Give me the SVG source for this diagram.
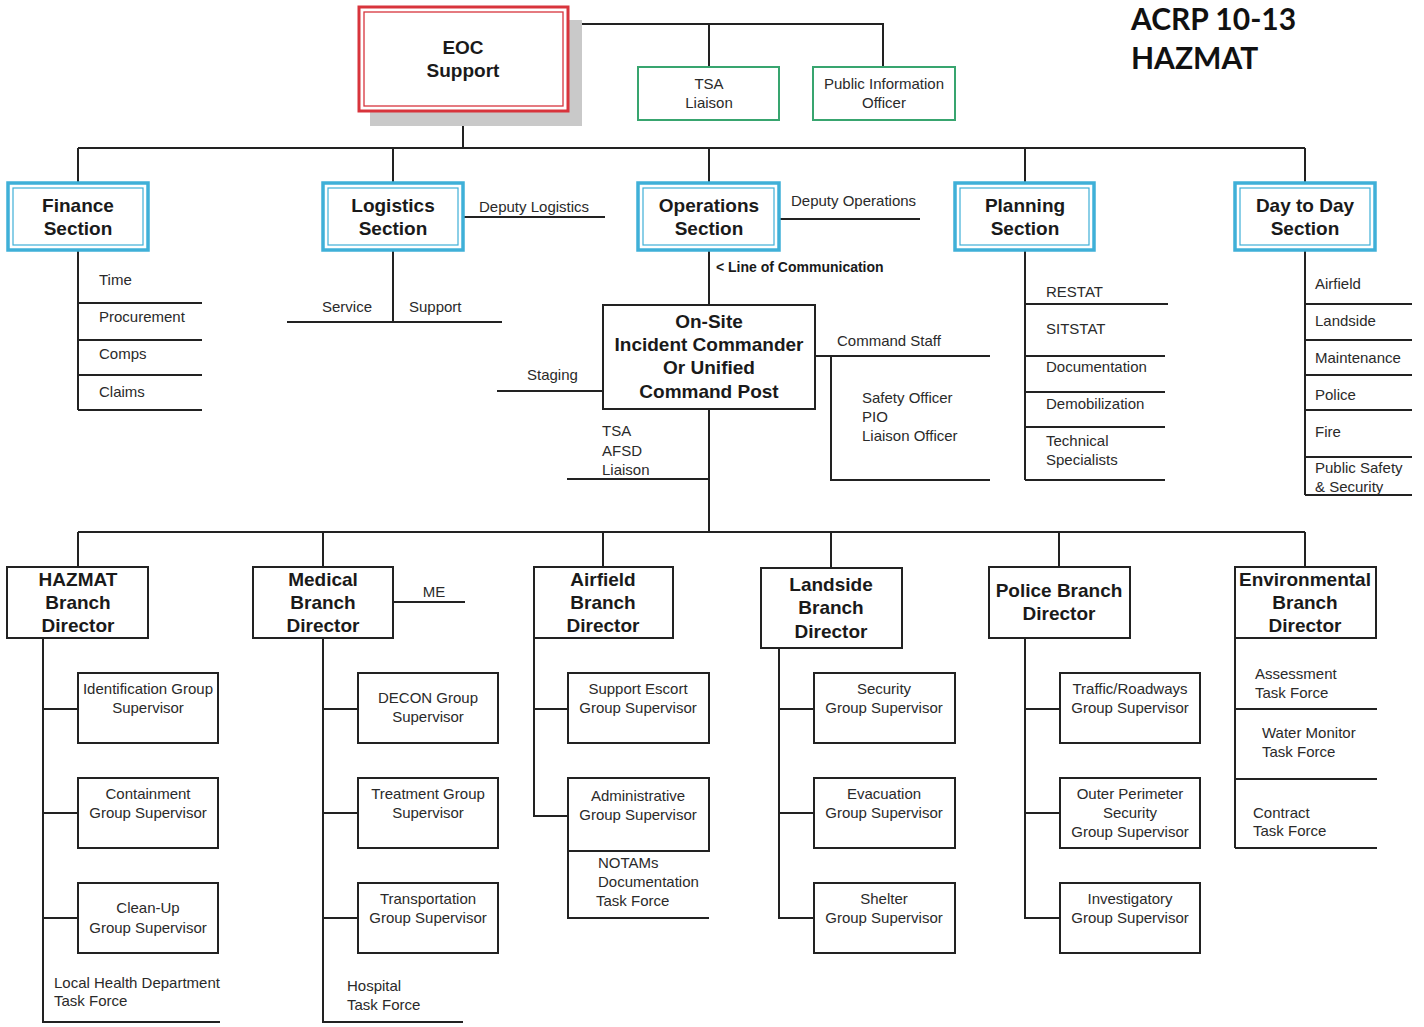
<svg xmlns="http://www.w3.org/2000/svg" width="1424" height="1027" viewBox="0 0 1424 1027">
  <defs>
    <style>
      .ln { stroke: #222; stroke-width: 2; fill: none; }
      .box { fill: #fff; stroke: #222; stroke-width: 2; }
      .sec { fill: #fff; stroke: #3fb0d8; stroke-width: 3.5; }
      .sec-in { fill: none; stroke: #3fb0d8; stroke-width: 1.2; }
      .grn { fill: #fff; stroke: #38a56f; stroke-width: 2; }
      .t { font-family: "Liberation Sans", Arial, sans-serif; font-size: 15px; fill: #2a2a2a; }
      .c { text-anchor: middle; }
      .b { font-family: "Liberation Sans", Arial, sans-serif; font-size: 19px; font-weight: bold; fill: #1a1a1a; text-anchor: middle; }
      .lc { font-family: "Liberation Sans", Arial, sans-serif; font-size: 14px; font-weight: bold; fill: #1a1a1a; }
      .title { font-family: Lato, "Open Sans", sans-serif; font-size: 30px; font-weight: bold; fill: #111; }
    </style>
  </defs>
  <rect width="1424" height="1027" fill="#fff"/>

  <!-- title -->
  <g id="title">
    <text class="title" x="1131" y="30">ACRP 10-13</text>
    <text class="title" x="1131" y="69">HAZMAT</text>
  </g>

  <!-- connectors -->
  <g id="connectors" class="ln">
    <!-- EOC to staff -->
    <polyline points="568,24 883,24 883,67"/>
    <line x1="709" y1="24" x2="709" y2="67"/>
    <!-- EOC to sections -->
    <line x1="463" y1="111" x2="463" y2="148"/>
    <line x1="78" y1="148" x2="1305" y2="148"/>
    <line x1="78" y1="148" x2="78" y2="183"/>
    <line x1="393" y1="148" x2="393" y2="183"/>
    <line x1="709" y1="148" x2="709" y2="183"/>
    <line x1="1025" y1="148" x2="1025" y2="183"/>
    <line x1="1305" y1="148" x2="1305" y2="183"/>

    <!-- finance units -->
    <line x1="78" y1="250" x2="78" y2="410"/>
    <line x1="78" y1="303" x2="202" y2="303"/>
    <line x1="78" y1="340" x2="202" y2="340"/>
    <line x1="78" y1="375" x2="202" y2="375"/>
    <line x1="78" y1="410" x2="202" y2="410"/>

    <!-- logistics -->
    <line x1="463" y1="217" x2="605" y2="217"/>
    <line x1="393" y1="250" x2="393" y2="322"/>
    <line x1="287" y1="322" x2="502" y2="322"/>

    <!-- operations -->
    <line x1="779" y1="219" x2="920" y2="219"/>
    <line x1="709" y1="250" x2="709" y2="305"/>
    <line x1="497" y1="391" x2="603" y2="391"/>
    <line x1="815" y1="356" x2="990" y2="356"/>
    <polyline points="831,356 831,480 990,480"/>
    <line x1="709" y1="409" x2="709" y2="532"/>
    <line x1="567" y1="479" x2="709" y2="479"/>

    <!-- planning units -->
    <line x1="1025" y1="250" x2="1025" y2="480"/>
    <line x1="1025" y1="304" x2="1168" y2="304"/>
    <line x1="1025" y1="356" x2="1165" y2="356"/>
    <line x1="1025" y1="392" x2="1165" y2="392"/>
    <line x1="1025" y1="427" x2="1165" y2="427"/>
    <line x1="1025" y1="480" x2="1165" y2="480"/>

    <!-- day to day units -->
    <line x1="1305" y1="250" x2="1305" y2="495"/>
    <line x1="1305" y1="304" x2="1412" y2="304"/>
    <line x1="1305" y1="340" x2="1412" y2="340"/>
    <line x1="1305" y1="375" x2="1412" y2="375"/>
    <line x1="1305" y1="410" x2="1412" y2="410"/>
    <line x1="1305" y1="457" x2="1412" y2="457"/>
    <line x1="1305" y1="495" x2="1412" y2="495"/>

    <!-- branches -->
    <line x1="78" y1="532" x2="1305" y2="532"/>
    <line x1="78" y1="532" x2="78" y2="567"/>
    <line x1="323" y1="532" x2="323" y2="567"/>
    <line x1="603" y1="532" x2="603" y2="567"/>
    <line x1="831" y1="532" x2="831" y2="568"/>
    <line x1="1059" y1="532" x2="1059" y2="567"/>
    <line x1="1305" y1="532" x2="1305" y2="567"/>

    <!-- hazmat groups -->
    <polyline points="43,638 43,1022 220,1022"/>
    <line x1="43" y1="709" x2="78" y2="709"/>
    <line x1="43" y1="813" x2="78" y2="813"/>
    <line x1="43" y1="918" x2="78" y2="918"/>

    <!-- medical groups -->
    <line x1="393" y1="602" x2="465" y2="602"/>
    <polyline points="323,638 323,1022 463,1022"/>
    <line x1="323" y1="709" x2="358" y2="709"/>
    <line x1="323" y1="813" x2="358" y2="813"/>
    <line x1="323" y1="918" x2="358" y2="918"/>

    <!-- airfield groups -->
    <polyline points="534,638 534,816 568,816"/>
    <line x1="534" y1="709" x2="568" y2="709"/>
    <polyline points="568,851 568,918 709,918"/>

    <!-- landside groups -->
    <polyline points="779,648 779,918 814,918"/>
    <line x1="779" y1="709" x2="814" y2="709"/>
    <line x1="779" y1="813" x2="814" y2="813"/>

    <!-- police groups -->
    <polyline points="1025,638 1025,918 1060,918"/>
    <line x1="1025" y1="709" x2="1060" y2="709"/>
    <line x1="1025" y1="813" x2="1060" y2="813"/>

    <!-- environmental task forces -->
    <line x1="1235" y1="638" x2="1235" y2="848"/>
    <line x1="1235" y1="709" x2="1377" y2="709"/>
    <line x1="1235" y1="779" x2="1377" y2="779"/>
    <line x1="1235" y1="848" x2="1377" y2="848"/>
  </g>

  <!-- EOC support -->
  <g id="eoc-support">
    <rect x="370" y="20" width="212" height="106" fill="#c9c9c9"/>
    <rect x="359" y="7" width="209" height="104" fill="#fff" stroke="#d8343c" stroke-width="3"/>
    <rect x="364" y="12" width="199" height="94" fill="none" stroke="#d8343c" stroke-width="1.3"/>
    <text class="b" x="463" y="54">EOC</text>
    <text class="b" x="463" y="77">Support</text>
  </g>

  <g id="tsa-liaison">
    <rect class="grn" x="638" y="67" width="141" height="53"/>
    <text class="t c" x="709" y="89">TSA</text>
    <text class="t c" x="709" y="108">Liaison</text>
  </g>

  <g id="public-information-officer">
    <rect class="grn" x="813" y="67" width="142" height="53"/>
    <text class="t c" x="884" y="89">Public Information</text>
    <text class="t c" x="884" y="108">Officer</text>
  </g>

  <!-- sections -->
  <g id="finance-section">
    <rect class="sec" x="8" y="183" width="140" height="67"/>
    <rect class="sec-in" x="13" y="188" width="130" height="57"/>
    <text class="b" x="78" y="212">Finance</text>
    <text class="b" x="78" y="235">Section</text>
    <text class="t" x="99" y="285">Time</text>
    <text class="t" x="99" y="322">Procurement</text>
    <text class="t" x="99" y="359">Comps</text>
    <text class="t" x="99" y="397">Claims</text>
  </g>

  <g id="logistics-section">
    <rect class="sec" x="323" y="183" width="140" height="67"/>
    <rect class="sec-in" x="328" y="188" width="130" height="57"/>
    <text class="b" x="393" y="212">Logistics</text>
    <text class="b" x="393" y="235">Section</text>
    <text class="t" x="479" y="212">Deputy Logistics</text>
    <text class="t" x="322" y="312">Service</text>
    <text class="t" x="409" y="312">Support</text>
  </g>

  <g id="operations-section">
    <rect class="sec" x="638" y="183" width="141" height="67"/>
    <rect class="sec-in" x="643" y="188" width="131" height="57"/>
    <text class="b" x="709" y="212">Operations</text>
    <text class="b" x="709" y="235">Section</text>
    <text class="t" x="791" y="206">Deputy Operations</text>
    <text class="lc" x="716" y="272">&lt; Line of Communication</text>
  </g>

  <g id="planning-section">
    <rect class="sec" x="955" y="183" width="139" height="67"/>
    <rect class="sec-in" x="960" y="188" width="129" height="57"/>
    <text class="b" x="1025" y="212">Planning</text>
    <text class="b" x="1025" y="235">Section</text>
    <text class="t" x="1046" y="297">RESTAT</text>
    <text class="t" x="1046" y="334">SITSTAT</text>
    <text class="t" x="1046" y="372">Documentation</text>
    <text class="t" x="1046" y="409">Demobilization</text>
    <text class="t" x="1046" y="446">Technical</text>
    <text class="t" x="1046" y="465">Specialists</text>
  </g>

  <g id="day-to-day-section">
    <rect class="sec" x="1235" y="183" width="140" height="67"/>
    <rect class="sec-in" x="1240" y="188" width="130" height="57"/>
    <text class="b" x="1305" y="212">Day to Day</text>
    <text class="b" x="1305" y="235">Section</text>
    <text class="t" x="1315" y="289">Airfield</text>
    <text class="t" x="1315" y="326">Landside</text>
    <text class="t" x="1315" y="363">Maintenance</text>
    <text class="t" x="1315" y="400">Police</text>
    <text class="t" x="1315" y="437">Fire</text>
    <text class="t" x="1315" y="473">Public Safety</text>
    <text class="t" x="1315" y="492">&amp; Security</text>
  </g>

  <!-- incident command post -->
  <g id="incident-command-post">
    <rect class="box" x="603" y="305" width="212" height="104"/>
    <text class="b" x="709" y="328">On-Site</text>
    <text class="b" x="709" y="351">Incident Commander</text>
    <text class="b" x="709" y="374">Or Unified</text>
    <text class="b" x="709" y="398">Command Post</text>
    <text class="t" x="527" y="380">Staging</text>
    <text class="t" x="837" y="346">Command Staff</text>
    <text class="t" x="862" y="403">Safety Officer</text>
    <text class="t" x="862" y="422">PIO</text>
    <text class="t" x="862" y="441">Liaison Officer</text>
    <text class="t" x="602" y="436">TSA</text>
    <text class="t" x="602" y="456">AFSD</text>
    <text class="t" x="602" y="475">Liaison</text>
  </g>

  <!-- branches -->
  <g id="hazmat-branch">
    <rect class="box" x="7" y="567" width="141" height="71"/>
    <text class="b" x="78" y="586">HAZMAT</text>
    <text class="b" x="78" y="609">Branch</text>
    <text class="b" x="78" y="632">Director</text>
  </g>
  <g id="identification-group">
    <rect class="box" x="78" y="673" width="140" height="70"/>
    <text class="t c" x="148" y="694">Identification Group</text>
    <text class="t c" x="148" y="713">Supervisor</text>
  </g>
  <g id="containment-group">
    <rect class="box" x="78" y="778" width="140" height="70"/>
    <text class="t c" x="148" y="799">Containment</text>
    <text class="t c" x="148" y="818">Group Supervisor</text>
  </g>
  <g id="cleanup-group">
    <rect class="box" x="78" y="883" width="140" height="70"/>
    <text class="t c" x="148" y="913">Clean-Up</text>
    <text class="t c" x="148" y="933">Group Supervisor</text>
  </g>
  <g id="local-health-task-force">
    <text class="t" x="54" y="988">Local Health Department</text>
    <text class="t" x="54" y="1006">Task Force</text>
  </g>

  <g id="medical-branch">
    <rect class="box" x="253" y="567" width="140" height="71"/>
    <text class="b" x="323" y="586">Medical</text>
    <text class="b" x="323" y="609">Branch</text>
    <text class="b" x="323" y="632">Director</text>
    <text class="t c" x="434" y="597">ME</text>
  </g>
  <g id="decon-group">
    <rect class="box" x="358" y="673" width="140" height="70"/>
    <text class="t c" x="428" y="703">DECON Group</text>
    <text class="t c" x="428" y="722">Supervisor</text>
  </g>
  <g id="treatment-group">
    <rect class="box" x="358" y="778" width="140" height="70"/>
    <text class="t c" x="428" y="799">Treatment Group</text>
    <text class="t c" x="428" y="818">Supervisor</text>
  </g>
  <g id="transportation-group">
    <rect class="box" x="358" y="883" width="140" height="70"/>
    <text class="t c" x="428" y="904">Transportation</text>
    <text class="t c" x="428" y="923">Group Supervisor</text>
  </g>
  <g id="hospital-task-force">
    <text class="t" x="347" y="991">Hospital</text>
    <text class="t" x="347" y="1010">Task Force</text>
  </g>

  <g id="airfield-branch">
    <rect class="box" x="534" y="567" width="139" height="71"/>
    <text class="b" x="603" y="586">Airfield</text>
    <text class="b" x="603" y="609">Branch</text>
    <text class="b" x="603" y="632">Director</text>
  </g>
  <g id="support-escort-group">
    <rect class="box" x="568" y="673" width="141" height="70"/>
    <text class="t c" x="638" y="694">Support Escort</text>
    <text class="t c" x="638" y="713">Group Supervisor</text>
  </g>
  <g id="administrative-group">
    <rect class="box" x="568" y="778" width="141" height="73"/>
    <text class="t c" x="638" y="801">Administrative</text>
    <text class="t c" x="638" y="820">Group Supervisor</text>
  </g>
  <g id="notams-task-force">
    <text class="t" x="598" y="868">NOTAMs</text>
    <text class="t" x="598" y="887">Documentation</text>
    <text class="t" x="596" y="906">Task Force</text>
  </g>

  <g id="landside-branch">
    <rect class="box" x="761" y="568" width="141" height="80"/>
    <text class="b" x="831" y="591">Landside</text>
    <text class="b" x="831" y="614">Branch</text>
    <text class="b" x="831" y="638">Director</text>
  </g>
  <g id="security-group">
    <rect class="box" x="814" y="673" width="141" height="70"/>
    <text class="t c" x="884" y="694">Security</text>
    <text class="t c" x="884" y="713">Group Supervisor</text>
  </g>
  <g id="evacuation-group">
    <rect class="box" x="814" y="778" width="141" height="70"/>
    <text class="t c" x="884" y="799">Evacuation</text>
    <text class="t c" x="884" y="818">Group Supervisor</text>
  </g>
  <g id="shelter-group">
    <rect class="box" x="814" y="883" width="141" height="70"/>
    <text class="t c" x="884" y="904">Shelter</text>
    <text class="t c" x="884" y="923">Group Supervisor</text>
  </g>

  <g id="police-branch">
    <rect class="box" x="989" y="567" width="141" height="71"/>
    <text class="b" x="1059" y="597">Police Branch</text>
    <text class="b" x="1059" y="620">Director</text>
  </g>
  <g id="traffic-roadways-group">
    <rect class="box" x="1060" y="673" width="140" height="70"/>
    <text class="t c" x="1130" y="694">Traffic/Roadways</text>
    <text class="t c" x="1130" y="713">Group Supervisor</text>
  </g>
  <g id="outer-perimeter-group">
    <rect class="box" x="1060" y="778" width="140" height="70"/>
    <text class="t c" x="1130" y="799">Outer Perimeter</text>
    <text class="t c" x="1130" y="818">Security</text>
    <text class="t c" x="1130" y="837">Group Supervisor</text>
  </g>
  <g id="investigatory-group">
    <rect class="box" x="1060" y="883" width="140" height="70"/>
    <text class="t c" x="1130" y="904">Investigatory</text>
    <text class="t c" x="1130" y="923">Group Supervisor</text>
  </g>

  <g id="environmental-branch">
    <rect class="box" x="1235" y="567" width="141" height="71"/>
    <text class="b" x="1305" y="586">Environmental</text>
    <text class="b" x="1305" y="609">Branch</text>
    <text class="b" x="1305" y="632">Director</text>
    <text class="t" x="1255" y="679">Assessment</text>
    <text class="t" x="1255" y="698">Task Force</text>
    <text class="t" x="1262" y="738">Water Monitor</text>
    <text class="t" x="1262" y="757">Task Force</text>
    <text class="t" x="1253" y="818">Contract</text>
    <text class="t" x="1253" y="836">Task Force</text>
  </g>
</svg>
